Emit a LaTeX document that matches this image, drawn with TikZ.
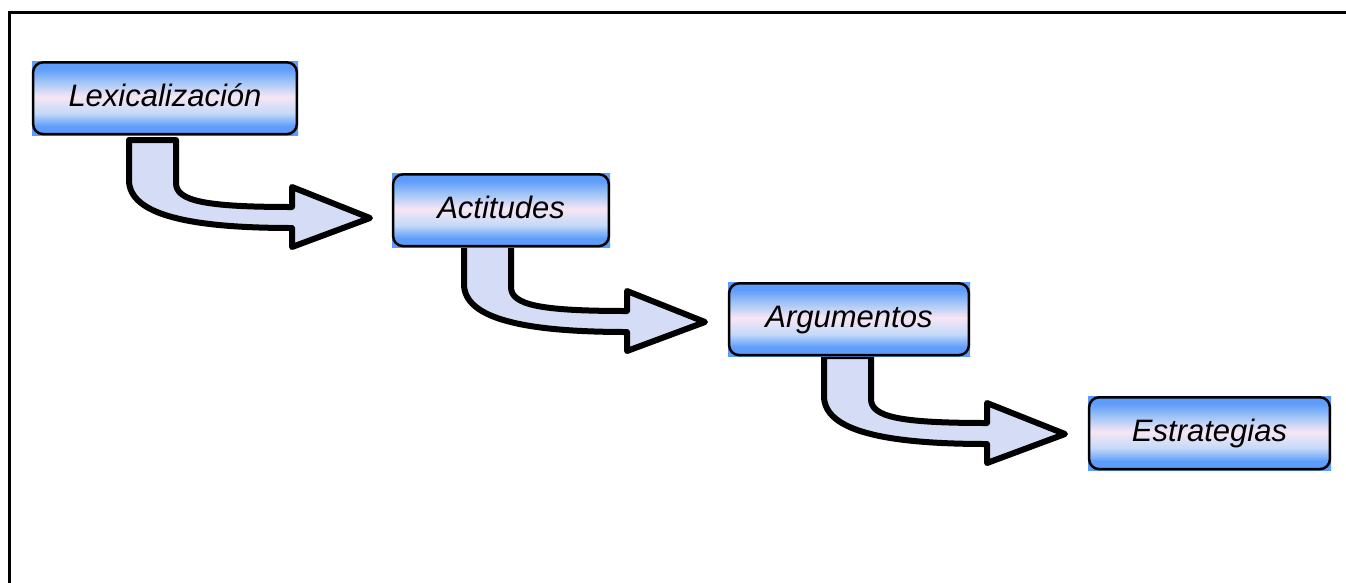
\documentclass[tikz,border=0pt]{standalone}
\usepackage{fontspec}
\setmainfont{Liberation Sans}
\definecolor{bblue}{HTML}{5E9CFA}
\definecolor{mblue}{HTML}{A9C9F6}
\definecolor{pinkw}{HTML}{F7E6F4}
\definecolor{lblue}{HTML}{C4DAF8}
\definecolor{arrowfill}{HTML}{D5DDF6}
\pgfdeclareverticalshading{boxshade}{100bp}{color(0bp)=(bblue); color(25bp)=(bblue); color(31bp)=(bblue); color(40bp)=(lblue); color(51bp)=(pinkw); color(60bp)=(mblue); color(70bp)=(bblue); color(75bp)=(bblue); color(100bp)=(bblue)}
\tikzset{
  stagebox/.style={shading=boxshade, inner sep=0pt, text height=45pt, text depth=29pt,
    font=\itshape\fontsize{31}{31}\selectfont, align=center},
  stageborder/.style={draw=black, line width=2.5pt, rounded corners=10pt},
  blockarrow/.style={fill=arrowfill, draw=black, line width=6pt, line join=round},
  framestyle/.style={draw=black, line width=3.5pt}
}
\newcommand{\bentarrow}[2]{%
  \begin{scope}[shift={(#1,#2)}]
    \draw[blockarrow] (129,140) -- (176,140) -- (176,183)
      .. controls (176,201) and (205,207) .. (292,207) -- (292,187) -- (370,218)
      -- (292,247) -- (292,228) .. controls (190,228) and (129,215) .. (129,180) -- cycle;
  \end{scope}}
\begin{document}
\begin{tikzpicture}[x=1pt,y=-1pt]
\useasboundingbox (0,0) rectangle (1346,582);
\fill[white] (0,0) rectangle (1346,582);
\draw[framestyle] (9.5,590) -- (9.5,12.5) -- (1360,12.5);
% bent arrows
\bentarrow{0}{0}
\bentarrow{335}{104}
\bentarrow{695}{216}
% stages
\node[stagebox, minimum width=266pt] (lex) at (165,61) [anchor=north] {Lexicalización};
\node[stagebox, minimum width=218pt] (act) at (501,173) [anchor=north] {Actitudes};
\node[stagebox, minimum width=242pt] (arg) at (849,282) [anchor=north] {Argumentos};
\node[stagebox, minimum width=243pt] (est) at (1209.5,396) [anchor=north] {Estrategias};
\foreach \n in {lex,act,arg,est}{
  \draw[stageborder] ([shift={(1.3pt,-1.3pt)}]\n.north west) rectangle ([shift={(-1.3pt,1.3pt)}]\n.south east);
}
\end{tikzpicture}
\end{document}
